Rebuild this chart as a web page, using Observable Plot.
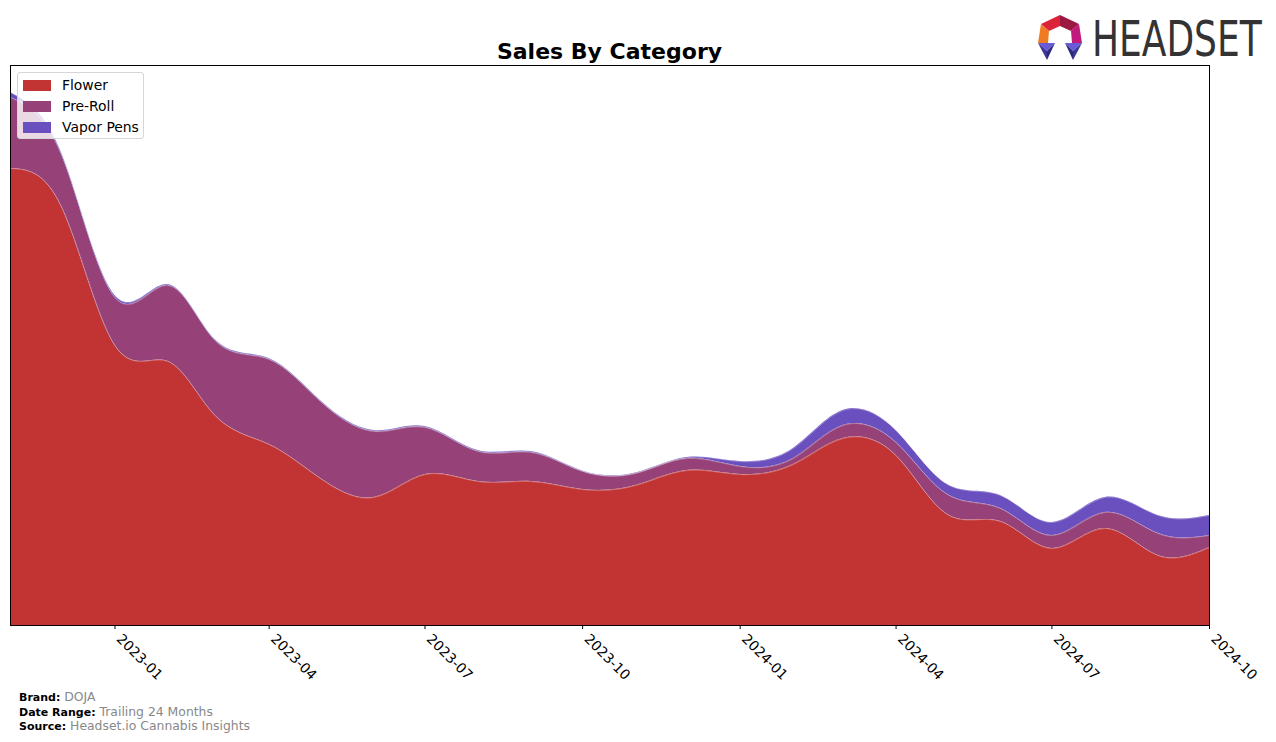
<!DOCTYPE html>
<html>
<head>
<meta charset="utf-8">
<script src="https://cdn.jsdelivr.net/npm/d3@7"></script>
<script src="https://cdn.jsdelivr.net/npm/@observablehq/plot@0.6"></script>
<style>
  html, body { margin: 0; padding: 0; background: #fff; }
  #wrap { position: relative; width: 1276px; height: 742px; overflow: hidden; font-family: "DejaVu Sans", sans-serif; }
  #chart { position: absolute; left: 0; top: 0; }
  #title { position: absolute; left: 0; width: 1219px; top: 39px; text-align: center; font-weight: bold; font-size: 22px; line-height: 26px; color: #000; }
  #legend { position: absolute; left: 17px; top: 72px; width: 125px; height: 65px; border: 1px solid #d6d6d6; border-radius: 3px; background: rgba(255,255,255,0.8); font-size: 13.9px; }
  .row { position: absolute; left: 5px; height: 16px; display: flex; align-items: center; }
  .sw { width: 28px; height: 11px; margin-right: 11px; }
  #footer { position: absolute; left: 19px; top: 690px; font-size: 12.4px; color: #888; }
  #footer div { height: 14.5px; line-height: 14.5px; white-space: nowrap; }
  #footer b { color: #000; font-size: 11px; }
  #logo { position: absolute; left: 1030px; top: 8px; }
</style>
</head>
<body>
<div id="wrap">
  <div id="chart"></div>
  <div id="title">Sales By Category</div>
  <div id="legend"></div>
  <svg id="logo" width="246" height="60" viewBox="1030 8 246 60">
    <polygon points="1060,15 1041,24 1049,31 1060,26" fill="#dd2339"/>
    <polygon points="1060,15 1079,24 1071,31 1060,26" fill="#9b1a42"/>
    <polygon points="1041,24 1038,43 1048,43 1049,31" fill="#f07b22"/>
    <polygon points="1079,24 1082,43 1072,43 1071,31" fill="#c2197d"/>
    <polygon points="1038,43 1055,43 1047,51" fill="#6a5ad8"/>
    <polygon points="1038,43 1047,51 1047,60" fill="#3b3596"/>
    <polygon points="1047,51 1055,43 1047,60" fill="#2c2a7c"/>
    <polygon points="1065,43 1082,43 1073,51" fill="#6a5ad8"/>
    <polygon points="1082,43 1073,51 1073,60" fill="#3b3596"/>
    <polygon points="1073,51 1065,43 1073,60" fill="#2c2a7c"/>
    <text transform="translate(1092,56) scale(0.80,1)" font-family="Liberation Sans Narrow, DejaVu Sans Condensed, sans-serif" font-size="50" fill="#333">HEADSET</text>
  </svg>
  <div id="footer">
    <div><b>Brand:</b> DOJA</div>
    <div><b>Date Range:</b> Trailing 24 Months</div>
    <div><b>Source:</b> Headset.io Cannabis Insights</div>
  </div>
</div>
<script>
// ---- data (relative monthly sales) ----
const months = ["2022-11","2022-12","2023-01","2023-02","2023-03","2023-04","2023-05","2023-06",
                "2023-07","2023-08","2023-09","2023-10","2023-11","2023-12","2024-01","2024-02",
                "2024-03","2024-04","2024-05","2024-06","2024-07","2024-08","2024-09","2024-10"];
const flower    = [457, 418, 280, 264, 209, 181, 147, 128, 151, 144, 144, 136, 140, 155, 151, 161, 187, 170, 111, 104, 77, 97, 70, 78];
const preRoll   = [71, 52, 48, 76, 75, 85, 77, 66, 47, 30, 29, 18, 12, 12, 8, 6, 13, 13, 20, 13, 13, 16, 22, 12];
const vaporPens = [5, 2, 2, 1, 1, 1, 1, 1, 1, 1, 1, 0.5, 0.5, 1, 5, 10, 15, 12, 10, 13, 13, 15, 18, 20];
const categories = ["Flower", "Pre-Roll", "Vapor Pens"];
const colors = ["#c13433", "#964177", "#6a4fbf"];
const tickLabels = ["2023-01","2023-04","2023-07","2023-10","2024-01","2024-04","2024-07","2024-10"];

const series = [flower, preRoll, vaporPens];
const data = months.flatMap((m, i) => categories.map((c, k) => ({
  date: new Date(m + "-01T00:00:00Z"), category: c, value: series[k][i]
})));
const tickDates = tickLabels.map(t => new Date(t + "-01T00:00:00Z"));

const chart = Plot.plot({
  width: 1276,
  height: 690,
  marginTop: 65,
  marginBottom: 65,
  marginLeft: 10,
  marginRight: 67,
  style: { fontFamily: "DejaVu Sans, sans-serif", fontSize: "13.9px", color: "#000", background: "transparent", overflow: "visible" },
  x: {
    type: "utc",
    domain: [new Date("2022-11-01T00:00:00Z"), new Date("2024-10-01T00:00:00Z")],
    label: null
  },
  y: { domain: [0, 560], axis: null },
  color: { domain: categories, range: colors },
  marks: [
    Plot.areaY(data, { x: "date", y: "value", fill: "category", z: "category", order: categories, curve: "natural" }),
    Plot.lineY(data, Plot.stackY2({ x: "date", y: "value", z: "category", order: categories, curve: "natural", stroke: "#fff", strokeOpacity: 0.3, strokeWidth: 1 })),
    Plot.frame({ stroke: "#000", strokeWidth: 1 }),
    // tick marks
    Plot.axisX({ ticks: tickDates, tickSize: 4, tickFormat: () => "", label: null }),
    // rotated tick labels
    Plot.axisX({
      ticks: tickDates,
      tickFormat: d3.utcFormat("%Y-%m"),
      tickRotate: 45,
      tickSize: 0,
      tickPadding: 8,
      dx: 4,
      dy: 3,
      label: null
    })
  ]
});
document.getElementById("chart").appendChild(chart);

// legend
const legend = document.getElementById("legend");
categories.forEach((c, k) => {
  const row = document.createElement("div");
  row.className = "row";
  row.style.top = (4 + k * 21) + "px";
  row.innerHTML = `<span class="sw" style="background:${colors[k]}"></span><span>${c}</span>`;
  legend.appendChild(row);
});
</script>
</body>
</html>
